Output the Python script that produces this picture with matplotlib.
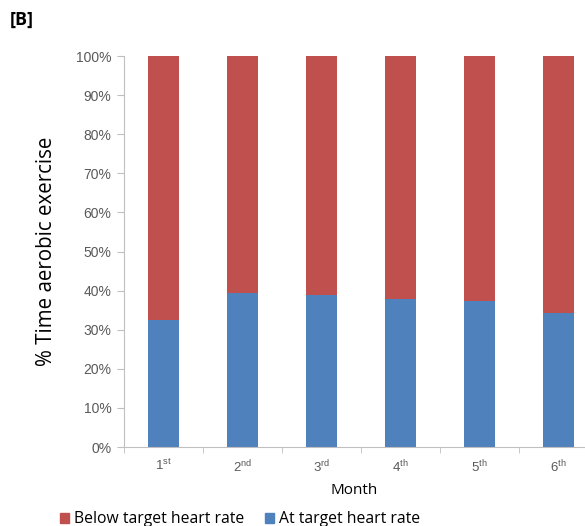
import matplotlib.pyplot as plt
from matplotlib.ticker import PercentFormatter
from matplotlib.patches import Patch

months = [r"1$^{\mathrm{st}}$", r"2$^{\mathrm{nd}}$", r"3$^{\mathrm{rd}}$",
          r"4$^{\mathrm{th}}$", r"5$^{\mathrm{th}}$", r"6$^{\mathrm{th}}$"]
at_target = [32.4, 39.3, 38.8, 37.9, 37.4, 34.3]
below_target = [100 - v for v in at_target]

RED = "#C0504D"
BLUE = "#4F81BD"
GREY = "#595959"

plt.rcParams["mathtext.fontset"] = "custom"
plt.rcParams["mathtext.rm"] = "Liberation Sans"

fig = plt.figure(figsize=(5.85, 5.26), dpi=100)
ax = fig.add_axes([0.212, 0.150, 0.788, 0.7435])

x = list(range(len(months)))
ax.bar(x, at_target, width=0.4, color=BLUE, zorder=2)
ax.bar(x, below_target, width=0.4, bottom=at_target, color=RED, zorder=2)

ax.set_yticks(range(0, 101, 10))
ax.yaxis.set_major_formatter(PercentFormatter(decimals=0))
ax.set_xticks(x)
ax.set_xticklabels(months, family="Liberation Sans")
# boundary tick marks between month categories
ax.set_xticks([i + 0.5 for i in range(-1, 6)], minor=True)
ax.set_ylim(0, 100)
ax.set_xlim(-0.5, 5.335)
ax.tick_params(axis="x", which="major", length=0, pad=8, labelsize=9.5, labelcolor=GREY)
ax.tick_params(axis="x", which="minor", length=4, color="#BFBFBF")
ax.tick_params(axis="y", length=5, color="#BFBFBF", labelsize=10, labelcolor=GREY, pad=4)
for lbl in ax.get_yticklabels():
    lbl.set_family("Liberation Sans")

for side in ("top", "right"):
    ax.spines[side].set_visible(False)
for side in ("left", "bottom"):
    ax.spines[side].set_color("#BFBFBF")

ax.set_ylabel("% Time aerobic exercise", fontsize=14.8, family="Open Sans", labelpad=14)
ax.set_xlabel("Month", fontsize=11, family="Open Sans", labelpad=6)

fig.text(0.017, 0.962, "[B]", fontsize=13, fontweight="bold", family="Open Sans", va="center")

handles = [Patch(color=RED, label="Below target heart rate"),
           Patch(color=BLUE, label="At target heart rate")]
fig.legend(handles=handles, loc="center", bbox_to_anchor=(0.41, 0.013), ncol=2,
           frameon=False, prop={"family": "Open Sans", "size": 11.3},
           handlelength=0.6, handleheight=0.6, handletextpad=0.3, columnspacing=1.3)

fig.savefig("out.png", dpi=100)
